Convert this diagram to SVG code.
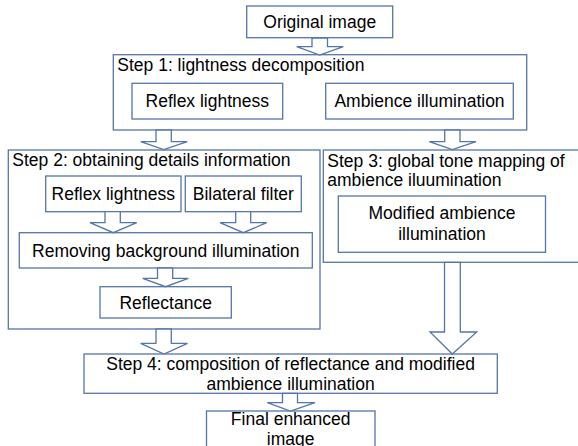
<svg xmlns="http://www.w3.org/2000/svg" width="578" height="446" viewBox="0 0 578 446">
<style>
.box{fill:#fff;stroke:#5576A8;stroke-width:1.3}
.arr{fill:#fff;stroke:#5576A8;stroke-width:1.3;stroke-linejoin:miter}
text{font-family:"Liberation Sans",Arial,sans-serif;font-size:17.5px;fill:#000}
.c{text-anchor:middle}
</style>
<rect width="578" height="446" fill="#fff"/>
<g id="step1">
<rect class="box" x="113.3" y="54.7" width="413.4" height="75.3"/>
<text x="117.3" y="71">Step 1: lightness decomposition</text>
</g>
<g id="step2">
<rect class="box" x="8.3" y="150" width="311.7" height="179"/>
<text x="12.3" y="165.5">Step 2: obtaining details information</text>
</g>
<g id="step3">
<rect class="box" x="323.3" y="150" width="258" height="112.3"/>
<text x="327.3" y="166.5">Step 3: global tone mapping of</text>
<text x="327.3" y="186">ambience iluumination</text>
</g>
<g id="original">
<rect class="box" x="246.7" y="6" width="146" height="31.7"/>
<text class="c" x="319.7" y="28">Original image</text>
</g>
<g id="reflex1">
<rect class="box" x="132" y="83.3" width="150.7" height="35.7"/>
<text class="c" x="207.3" y="107.4">Reflex lightness</text>
</g>
<g id="ambience">
<rect class="box" x="325.7" y="83.3" width="187.6" height="35.7"/>
<text class="c" x="419.5" y="107.4">Ambience illumination</text>
</g>
<g id="reflex2">
<rect class="box" x="45.7" y="176" width="135.3" height="35.7"/>
<text class="c" x="113.3" y="200">Reflex lightness</text>
</g>
<g id="bilateral">
<rect class="box" x="185.3" y="176" width="116" height="35.7"/>
<text class="c" x="243.3" y="200">Bilateral filter</text>
</g>
<g id="removing">
<rect class="box" x="19.3" y="232.7" width="293" height="35.3"/>
<text class="c" x="165.8" y="256.5">Removing background illumination</text>
</g>
<g id="reflectance">
<rect class="box" x="100" y="286.7" width="131.3" height="31.3"/>
<text class="c" x="165.7" y="308.5">Reflectance</text>
</g>
<g id="modified">
<rect class="box" x="338.3" y="196" width="207.2" height="56.3"/>
<text class="c" x="442" y="219.3">Modified ambience</text>
<text class="c" x="442" y="240">illumination</text>
</g>
<g id="step4">
<rect class="box" x="84" y="354" width="413.3" height="39.3"/>
<text class="c" x="290.6" y="369.5">Step 4: composition of reflectance and modified</text>
<text class="c" x="290.6" y="389.5">ambience illumination</text>
</g>
<g id="final">
<rect class="box" x="206.5" y="411" width="168.5" height="40"/>
<text class="c" x="290.7" y="425">Final enhanced</text>
<text class="c" x="290.7" y="445">image</text>
</g>
<g id="connectors">
<polygon class="arr" points="312,38 327.5,38 327.5,46.7 343.3,46.7 319.7,55 296.7,46.7 312,46.7"/>
<polygon class="arr" points="156,130 171.3,130 171.3,141.7 187.3,141.7 163.7,149.5 140.7,141.7 156,141.7"/>
<polygon class="arr" points="444.7,130 460,130 460,141.7 476,141.7 452.3,149.5 429.3,141.7 444.7,141.7"/>
<polygon class="arr" points="105,211.7 120.3,211.7 120.3,222.7 136.7,222.7 113.3,232.7 90,222.7 105,222.7"/>
<polygon class="arr" points="235.7,211.7 250.7,211.7 250.7,222.7 266.7,222.7 243.3,232.7 220,222.7 235.7,222.7"/>
<polygon class="arr" points="157.5,268 172.7,268 172.7,278.3 188.3,278.3 165.5,286.7 142.7,278.3 157.5,278.3"/>
<polygon class="arr" points="156,329 171.3,329 171.3,343.3 187.5,343.3 164,354 140.7,343.3 156,343.3"/>
<polygon class="arr" points="444.5,262.3 460.3,262.3 460.3,332 476.7,332 452.3,354 430,332 444.5,332"/>
<polygon class="arr" points="282.5,393.3 297.5,393.3 297.5,402.7 315,402.7 290.5,411 267.3,402.7 282.5,402.7"/>
</g>
</svg>
